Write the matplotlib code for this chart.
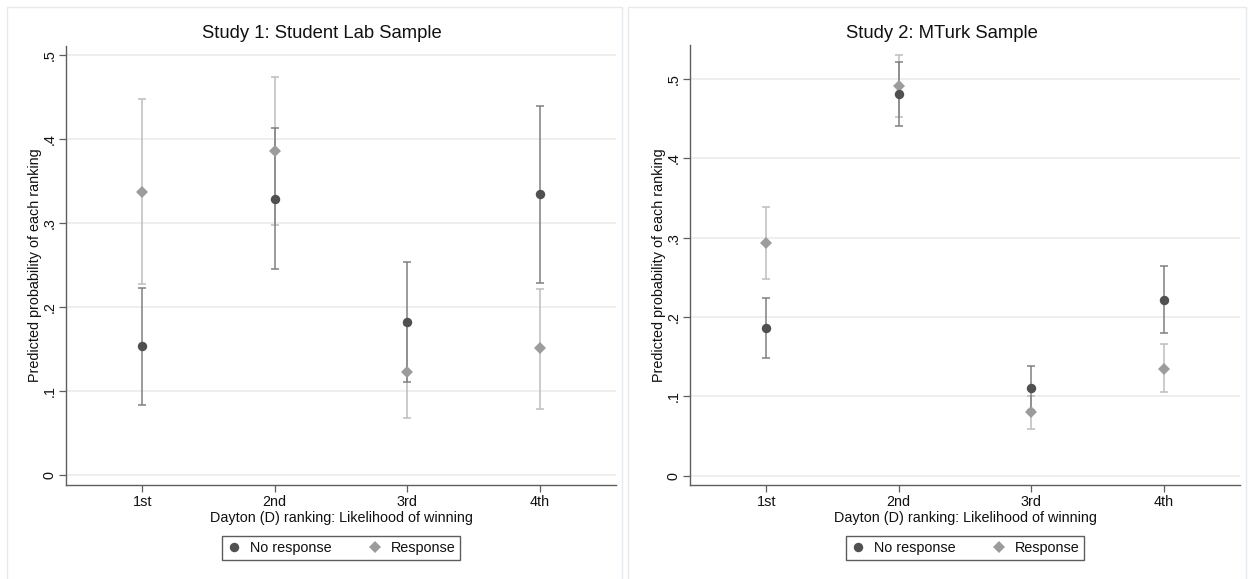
import matplotlib
matplotlib.use("Agg")
import matplotlib.pyplot as plt
from matplotlib.patches import Rectangle
from matplotlib.lines import Line2D
import numpy as np

plt.rcParams['font.family'] = ['Liberation Sans', 'DejaVu Sans']

categories = ['1st', '2nd', '3rd', '4th']
yticks = [0, 0.1, 0.2, 0.3, 0.4, 0.5]
ytick_labels = ['0', '.1', '.2', '.3', '.4', '.5']

# Study 1: Student Lab Sample
s1_nr = [0.153, 0.329, 0.182, 0.334]
s1_nr_lo = [0.083, 0.245, 0.111, 0.229]
s1_nr_hi = [0.223, 0.413, 0.254, 0.439]
s1_r = [0.337, 0.386, 0.123, 0.151]
s1_r_lo = [0.227, 0.298, 0.068, 0.079]
s1_r_hi = [0.448, 0.474, 0.179, 0.222]

# Study 2: MTurk Sample
s2_nr = [0.186, 0.481, 0.110, 0.221]
s2_nr_lo = [0.149, 0.441, 0.083, 0.180]
s2_nr_hi = [0.224, 0.521, 0.138, 0.264]
s2_r = [0.294, 0.491, 0.080, 0.135]
s2_r_lo = [0.248, 0.452, 0.059, 0.106]
s2_r_hi = [0.339, 0.531, 0.100, 0.166]

titles = ['Study 1: Student Lab Sample', 'Study 2: MTurk Sample']
xlabel = 'Dayton (D) ranking: Likelihood of winning'
ylabel = 'Predicted probability of each ranking'
legend_labels = ['No response', 'Response']

W, H = 1248, 579
fig = plt.figure(figsize=(W / 100, H / 100), dpi=100)
fig.patch.set_facecolor('white')

def fx(px):
    return px / W

def fy(py):
    return 1 - py / H

DARK_M = '#505050'
DARK_L = '#808080'
LIGHT_M = '#9c9c9c'
LIGHT_L = '#bdbdbd'
TXT = '#111111'
FS = 10.4

panels = [
    dict(x0=66, x1=616, y0=46, y1=485, ylim=(-0.0119, 0.5107), title_x=322,
         nr=s1_nr, nr_lo=s1_nr_lo, nr_hi=s1_nr_hi, r=s1_r, r_lo=s1_r_lo, r_hi=s1_r_hi,
         frame=(7, 7, 622, 600)),
    dict(x0=690, x1=1240, y0=45, y1=485, ylim=(-0.0117, 0.543), title_x=942,
         nr=s2_nr, nr_lo=s2_nr_lo, nr_hi=s2_nr_hi, r=s2_r, r_lo=s2_r_lo, r_hi=s2_r_hi,
         frame=(628, 7, 1246, 600)),
]

for i, p in enumerate(panels):
    # faint panel frame
    fx0, fy0, fx1, fy1 = p['frame']
    fig.patches.append(Rectangle((fx(fx0), fy(fy1)), fx(fx1) - fx(fx0), fy(fy0) - fy(fy1),
                                 transform=fig.transFigure, fill=False,
                                 edgecolor='#e4eaee', linewidth=1.0, zorder=0))
    ax = fig.add_axes([fx(p['x0']), fy(p['y1']), fx(p['x1']) - fx(p['x0']),
                       fy(p['y0']) - fy(p['y1'])])
    x = np.arange(1, len(categories) + 1)
    r = np.array(p['r']); nr = np.array(p['nr'])
    ax.errorbar(x, r, yerr=[r - np.array(p['r_lo']), np.array(p['r_hi']) - r],
                fmt='none', ecolor=LIGHT_L, elinewidth=1.1, capsize=2.9, capthick=1.1, zorder=3)
    ax.errorbar(x, nr, yerr=[nr - np.array(p['nr_lo']), np.array(p['nr_hi']) - nr],
                fmt='none', ecolor=DARK_L, elinewidth=1.1, capsize=2.9, capthick=1.1, zorder=4)
    ax.plot(x, r, linestyle='none', marker='D', markersize=6.0, color=LIGHT_M,
            markeredgewidth=0, zorder=5)
    ax.plot(x, nr, linestyle='none', marker='o', markersize=6.8, color=DARK_M,
            markeredgewidth=0, zorder=6)
    ax.set_xlim(0.425, 4.575)
    ax.set_ylim(*p['ylim'])
    ax.set_xticks(x)
    ax.set_xticklabels(categories, fontsize=FS, color=TXT)
    ax.set_yticks(yticks)
    ax.set_yticklabels(ytick_labels, fontsize=FS, color=TXT, rotation=90, va='center')
    ax.grid(axis='y', color='#e9e9e9', linewidth=1.1, zorder=0)
    ax.set_axisbelow(True)
    for s in ['top', 'right']:
        ax.spines[s].set_visible(False)
    for s in ['left', 'bottom']:
        ax.spines[s].set_color('#5e5e5e')
        ax.spines[s].set_linewidth(1.0)
    ax.tick_params(axis='both', direction='out', length=5, width=0.9, color='#5e5e5e')
    ax.tick_params(axis='x', pad=2)
    ax.tick_params(axis='y', pad=2)
    cx = (p['x0'] + p['x1']) / 2
    fig.text(fx(p['title_x']), fy(33), titles[i], ha='center', va='center',
             fontsize=13.3, color=TXT)
    fig.text(fx(cx), fy(518), xlabel, ha='center', va='center', fontsize=FS, color=TXT)
    fig.text(fx(p['x0'] - 31), fy((p['y0'] + p['y1']) / 2), ylabel, ha='center',
             va='center', rotation=90, fontsize=FS, color=TXT)
    handles = [Line2D([], [], linestyle='none', marker='o', markersize=6.8, color=DARK_M,
                      markeredgewidth=0),
               Line2D([], [], linestyle='none', marker='D', markersize=6.0, color=LIGHT_M,
                      markeredgewidth=0)]
    leg = fig.legend(handles, legend_labels, loc='center', ncol=2,
                     bbox_to_anchor=(fx(cx), fy(548)), fontsize=FS, frameon=True,
                     fancybox=False, edgecolor='#333333', handletextpad=0.6,
                     columnspacing=2.5, handlelength=1.0, borderpad=0.35)
    leg.get_frame().set_linewidth(1.0)
    for t in leg.get_texts():
        t.set_color(TXT)

fig.savefig('out.png', dpi=100, facecolor='white')
